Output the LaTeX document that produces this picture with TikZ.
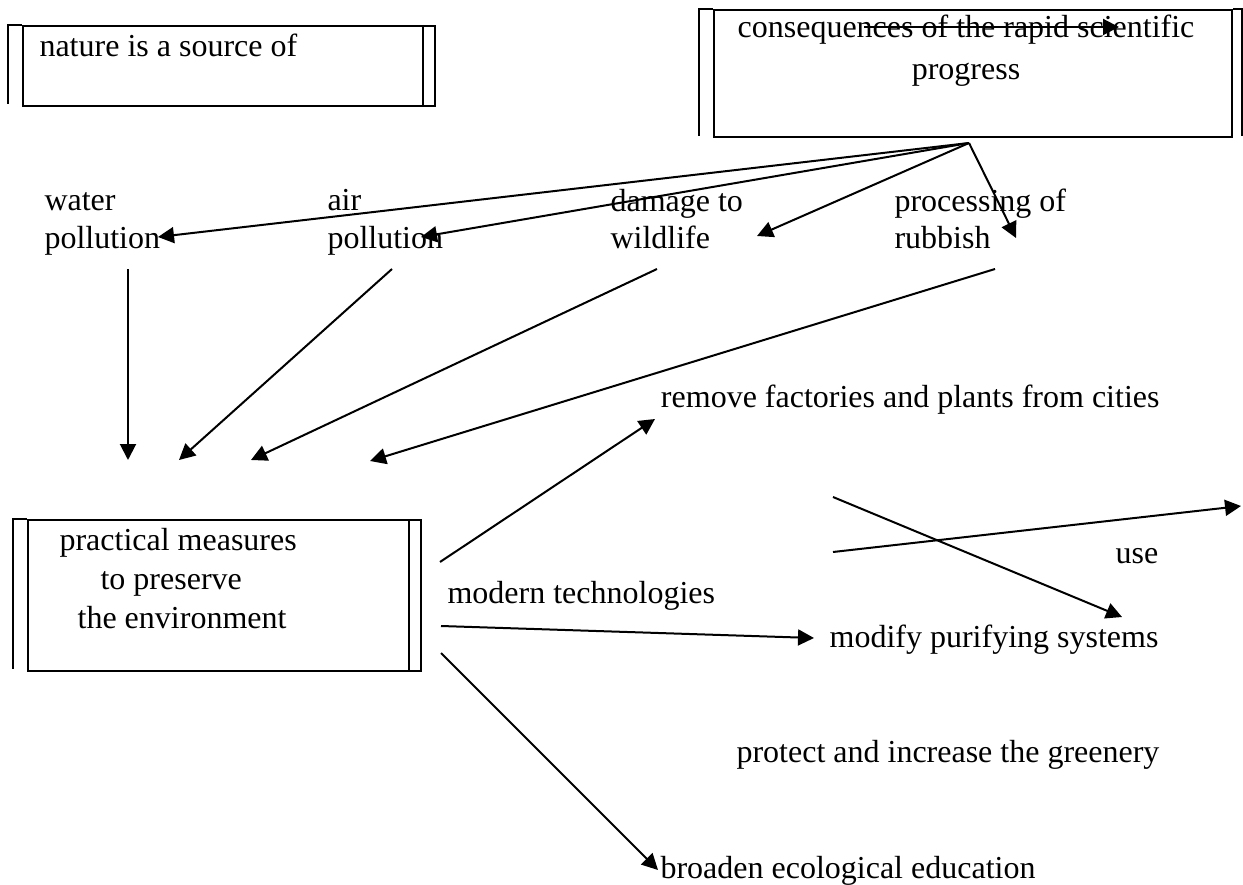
\documentclass[tikz,border=0pt]{standalone}
\usepackage{fontspec}
\setmainfont{Liberation Serif}
\usetikzlibrary{arrows.meta, positioning, fit, calc}

\begin{document}
\begin{tikzpicture}[
      x=0.375pt, y=-0.375pt,
      frame/.style={rectangle, draw, line width=0.75pt, inner sep=0pt},
      edge/.style={line width=0.75pt},
      txt/.style={inner sep=0pt, align=left, font=\fontsize{12}{14}\selectfont},
      arrow/.style={-{Triangle[length=6pt, width=6pt]}, line width=0.75pt}
      ]
      \useasboundingbox (0,0) rectangle (1243,884);

      % Frames
      \node[frame, fit={(23,26) (435,106)}] (nature) {};
      \node[frame, fit={(714,10) (1232,137)}] (cons) {};
      \node[frame, fit={(28,520) (421,671)}] (measures) {};

      % Double edges of the frames
      \draw[edge] (nature.north west) -- ++(-14,0) -- ++(0,79);
      \draw[edge] ($(nature.north east)+(-13,0)$) -- ($(nature.south east)+(-13,0)$);
      \draw[edge] (cons.north west) -- ++(-14,0) -- ++(0,127);
      \draw[edge] (cons.north east) -- ++(9,0) -- ++(0,127);
      \draw[edge] (measures.north west) -- ++(-14,0) -- ++(0,150);
      \draw[edge] ($(measures.north east)+(-13,0)$) -- ($(measures.south east)+(-13,0)$);

      % Frame texts (base = last line)
      \node[txt, anchor=base west] (naturetxt) at (39,57) {nature is a source of};
      \node[txt, anchor=base, align=center, font=\fontsize{12}{15.75}\selectfont] (constxt) at (966,80) {consequences of the rapid scientific\\progress};
      \node[txt, anchor=base west, font=\fontsize{12}{14.6}\selectfont] (measurestxt) at (59,628) {practical measures\\\hspace*{15.4pt}to preserve\\\hspace*{6.8pt}the environment};

      % Consequences
      \node[txt, anchor=base west] (water) at (44,248) {water\\pollution};
      \node[txt, anchor=base west] (air) at (327,248) {air\\pollution};
      \node[txt, anchor=base west] (wildlife) at (610,249) {damage to\\wildlife};
      \node[txt, anchor=base west] (rubbish) at (894,249) {processing of\\rubbish};

      % Measures
      \node[txt, anchor=base east] (remove) at (1160,407) {remove factories and plants from cities};
      \node[txt, anchor=base west] (modern) at (447,603) {modern technologies};
      \node[txt, anchor=base west] (use) at (1115,563) {use};
      \node[txt, anchor=base east] (modify) at (1159,647) {modify purifying systems};
      \node[txt, anchor=base west] (protect) at (736,762) {protect and increase the greenery};
      \node[txt, anchor=base west] (broaden) at (660,878) {broaden ecological education};

      % Arrow ends
      \coordinate (apex) at ($(cons.south)+(-4,5)$);
      \coordinate (water-in) at (158,237);
      \coordinate (air-in) at (421,237);
      \coordinate (wildlife-in) at (757,236);
      \coordinate (rubbish-in) at (1016,238);
      \coordinate (water-out) at (128,269);
      \coordinate (air-out) at (392,269);
      \coordinate (wildlife-out) at (657,269);
      \coordinate (rubbish-out) at (995,269);
      \coordinate (water-end) at (128,460);
      \coordinate (air-end) at (179,460);
      \coordinate (wildlife-end) at (251,460);
      \coordinate (rubbish-end) at (370,461);
      \coordinate (remove-out) at (440,562);
      \coordinate (remove-in) at (655,419);
      \coordinate (modify-out) at (441,626);
      \coordinate (modify-in) at (814,638);
      \coordinate (broaden-out) at (441,653);
      \coordinate (broaden-in) at (658,870);
      \coordinate (cross-a) at (833,497);
      \coordinate (cross-b) at (1122,617);
      \coordinate (cross-c) at (833,552);
      \coordinate (cross-d) at (1241,506);
      \coordinate (strike-a) at (864,27);
      \coordinate (strike-b) at (1119,27);

      % Arrows from consequences
      \draw[arrow] (apex) -- (water-in);
      \draw[arrow] (apex) -- (air-in);
      \draw[arrow] (apex) -- (wildlife-in);
      \draw[arrow] (apex) -- (rubbish-in);
      \draw[arrow] (strike-a) -- (strike-b);

      % Arrows towards measures
      \draw[arrow] (water-out) -- (water-end);
      \draw[arrow] (air-out) -- (air-end);
      \draw[arrow] (wildlife-out) -- (wildlife-end);
      \draw[arrow] (rubbish-out) -- (rubbish-end);

      % Arrows from measures
      \draw[arrow] (remove-out) -- (remove-in);
      \draw[arrow] (modify-out) -- (modify-in);
      \draw[arrow] (broaden-out) -- (broaden-in);
      \draw[arrow] (cross-a) -- (cross-b);
      \draw[arrow] (cross-c) -- (cross-d);

   \end{tikzpicture}
\end{document}
